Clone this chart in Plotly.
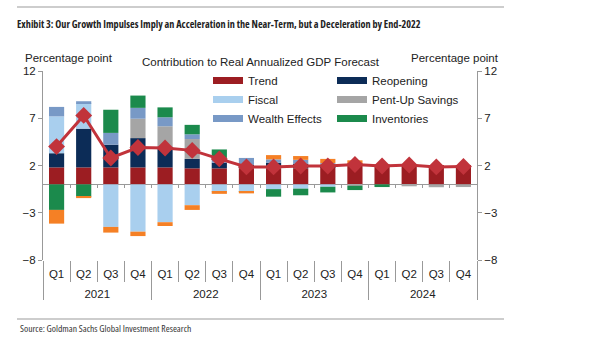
import plotly.graph_objects as go

# ---------------- data ----------------
years = ["2021", "2022", "2023", "2024"]
quarters = ["Q1", "Q2", "Q3", "Q4"]

trend = [1.8, 1.8, 1.8, 1.8, 1.8, 1.7, 1.7, 1.7, 1.7, 1.7, 1.8, 2.0, 2.1, 2.1, 2.05, 2.05]
reopening = [1.5, 4.1, 2.4, 3.1, 2.2, 1.0, 0.6, 0.4, 0.6, 0.5, 0.2, 0.15, 0, 0, 0, 0]
fiscal = [3.9, 2.7, -4.5, -5.0, -4.0, -2.2, -0.8, -0.7, -0.5, -0.45, -0.25, 0, 0, 0, 0, 0]
pent_up = [0, 0, 0, 2.05, 2.15, 2.1, 0, 0, 0, 0, 0, -0.15, 0, -0.2, -0.3, -0.28]
wealth = [1.0, 0.2, 1.25, 1.15, 0.95, 0.5, 0.5, 0.7, 0.35, 0.4, 0.25, 0, 0, 0, 0, 0]
inventories = [-2.7, -1.3, 2.45, 1.3, 1.05, 1.0, 0.9, -0.1, -0.8, -0.7, -0.6, -0.45, -0.28, 0, 0, 0]
other = [-1.45, -0.15, -0.6, -0.47, -0.4, -0.5, -0.2, -0.15, 0.45, 0.4, 0.45, 0.4, 0, 0, 0, 0]
gdp = [4.0, 7.3, 2.8, 3.9, 3.85, 3.6, 2.7, 1.85, 1.85, 1.95, 1.95, 2.1, 1.95, 2.05, 1.85, 1.9]

y_ticks = [-8, -3, 2, 7, 12]

# ---------------- layout helpers ----------------
W, H = 599, 340
L, R, T, B = 43, 477, 71, 260


def px_x(p):
    return (p - L) / (R - L)


def px_y(p):
    return (B - p) / (B - T)


YEAR_STYLE = "<span style=\"baseline-shift:-11px\">{}</span>"
x_outer = [YEAR_STYLE.format(y) for y in years for _ in quarters]
x_inner = [q for _ in years for q in quarters]
x_multi = [x_outer, x_inner]
n_cat = len(x_inner)

FONT = "Liberation Sans, Arial, sans-serif"
COND = "font-family:'Open Sans';font-stretch:75%;"

series = [
    ("Trend", trend, "#9C1D22", "legend"),
    ("Reopening", reopening, "#0C2C57", "legend2"),
    ("Fiscal", fiscal, "#A9CFEE", "legend"),
    ("Pent-Up Savings", pent_up, "#A5A5A5", "legend2"),
    ("Wealth Effects", wealth, "#7899C6", "legend"),
    ("Inventories", inventories, "#1B8A4C", "legend2"),
]

fig = go.Figure()
for name, vals, color, _ in series:
    fig.add_trace(go.Bar(x=x_multi, y=vals, name=name, marker=dict(color=color, line=dict(width=0)),
                         showlegend=False))
fig.add_trace(go.Bar(x=x_multi, y=other, name="Other", marker=dict(color="#F58025", line=dict(width=0)),
                     showlegend=False))

fig.add_trace(go.Scatter(x=x_multi, y=gdp, name="Real GDP", mode="lines+markers",
                         line=dict(color="#C1333B", width=3),
                         marker=dict(symbol="diamond", size=13, color="#C1333B"),
                         showlegend=False, yaxis="y2"))

# legend entries (wide swatches)
for name, vals, color, lg in series:
    fig.add_trace(go.Scatter(x=[[x_outer[0]], [x_inner[0]]], y=[None], mode="lines", name=name,
                             line=dict(color=color, width=7), legend=lg, showlegend=True))

# invisible traces carrying the boundary ticks (zero line and quarter separators)
fig.add_trace(go.Scatter(x=[0], y=[None], xaxis="x2", showlegend=False, hoverinfo="skip"))
fig.add_trace(go.Scatter(x=[0], y=[None], xaxis="x3", showlegend=False, hoverinfo="skip"))

boundaries = [i + 0.5 for i in range(n_cat - 1)]

fig.update_layout(
    width=W, height=H,
    margin=dict(l=L, r=W - R, t=T, b=H - B),
    paper_bgcolor="white", plot_bgcolor="white",
    barmode="relative", bargap=0.44,
    font=dict(family=FONT, size=11, color="#222"),
    title=dict(text=f"<span style=\"{COND}\"><b>Exhibit 3: Our Growth Impulses Imply an Acceleration in the Near-Term, but a Deceleration by End-2022</b></span>",
               x=17 / W, xref="container", xanchor="left", y=1 - 24 / H, yref="container", yanchor="middle",
               font=dict(family=FONT, size=10.2, color="#222")),
    xaxis=dict(type="multicategory", range=[-0.5, n_cat - 0.5], showline=False, ticks="",
               tickson="boundaries", tickangle=0,
               showdividers=True, dividercolor="#999", dividerwidth=1, ticklabelstandoff=5,
               tickfont=dict(size=11.5, color="#222"), showgrid=False, zeroline=False),
    xaxis2=dict(overlaying="x", anchor="free", position=0.4, range=[-0.5, n_cat - 0.5], showline=False,
                tickvals=boundaries, ticks="outside", ticklen=3,
                tickcolor="#999", showticklabels=False, showgrid=False, zeroline=False),
    xaxis3=dict(overlaying="x", anchor="free", position=0, range=[-0.5, n_cat - 0.5], showline=False,
                tickvals=boundaries, ticks="outside", ticklen=21,
                tickcolor="#999", showticklabels=False, showgrid=False, zeroline=False),
    yaxis=dict(range=[-8, 12], tickvals=y_ticks, ticks="outside", ticklen=4, tickcolor="#999",
               showline=True, linecolor="#999", linewidth=1, showgrid=False,
               zeroline=True, zerolinecolor="#999", zerolinewidth=1,
               tickfont=dict(size=11.5, color="#222")),
    yaxis2=dict(range=[-8, 12], tickvals=y_ticks, ticks="outside", ticklen=4, tickcolor="#999",
                overlaying="y", side="right", showline=True, linecolor="#999", linewidth=1,
                showgrid=False, zeroline=False, tickfont=dict(size=11.5, color="#222")),
    legend=dict(x=px_x(208), y=px_y(66), xanchor="left", yanchor="top", bgcolor="rgba(0,0,0,0)",
                font=dict(size=11.5, color="#222"), tracegroupgap=0),
    legend2=dict(x=px_x(332), y=px_y(66), xanchor="left", yanchor="top", bgcolor="rgba(0,0,0,0)",
                 font=dict(size=11.5, color="#222"), tracegroupgap=0),
)

ann = [
    dict(text="Percentage point", x=px_x(69), y=px_y(58)),
    dict(text="Percentage point", x=px_x(455), y=px_y(58)),
    dict(text="Contribution to Real Annualized GDP Forecast", x=px_x(261), y=px_y(62)),
]
for a in ann:
    fig.add_annotation(xref="paper", yref="paper", showarrow=False, xanchor="center", yanchor="middle",
                       font=dict(size=11.5, color="#222", family=FONT), **a)

fig.add_annotation(xref="paper", yref="paper", showarrow=False, xanchor="left", yanchor="middle",
                   x=px_x(18), y=px_y(328),
                   text=f"<span style=\"{COND}\">Source: Goldman Sachs Global Investment Research</span>",
                   font=dict(size=9.6, color="#333", family=FONT))

for yy in (7, 319):
    fig.add_shape(type="line", xref="paper", yref="paper", x0=px_x(17), x1=px_x(504), y0=px_y(yy), y1=px_y(yy),
                  line=dict(color="#BDBDBD", width=1.5))

fig.write_html("out.html")
